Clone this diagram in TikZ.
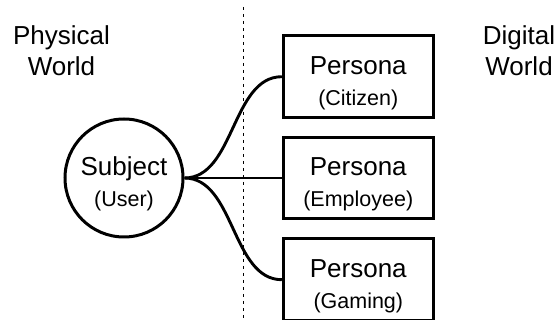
\documentclass[tikz,border=0pt]{standalone}
\usepackage{fontspec}
\setmainfont{Liberation Sans}
\newcommand{\subtxt}[1]{{\fontsize{21.5}{26}\selectfont #1}}

\begin{document}
\begin{tikzpicture}[x=1pt,y=-1pt,
  every node/.style={align=center,font=\fontsize{26}{31}\selectfont},
  persona/.style={draw,line width=3pt,minimum width=150pt,minimum height=81.5pt,inner sep=0pt,text height=62pt,text depth=4.8pt},
  subject/.style={draw,circle,line width=3pt,minimum size=118pt,inner sep=0pt,text height=62pt,text depth=4.8pt},
  link/.style={line width=2.9pt},
  divider/.style={line width=0.8pt,dash pattern=on 3.5pt off 3.5pt}]
  \useasboundingbox (0,0) rectangle (555,320);
  \def\xa{61.5}
  \def\xb{124}
  \def\xc{358.3}
  \def\xd{519}
  \def\xe{243.5}
  \def\ya{76.7}
  \def\yb{178}
  \def\yc{279.7}
  \node (Wa) at (\xa,50.5) {Physical\\World};
  \node (Wb) at (\xd,50.5) {Digital\\World};
  \node[subject] (Sa) at (\xb,\yb) {Subject\\\subtxt{(User)}};
  \node[persona] (Pa) at (\xc,\ya) {Persona\\\subtxt{(Citizen)}};
  \node[persona] (Pb) at (\xc,\yb) {Persona\\\subtxt{(Employee)}};
  \node[persona] (Pc) at (\xc,\yc) {Persona\\\subtxt{(Gaming)}};
  \coordinate (Da) at (\xe,7);
  \coordinate (Db) at (\xe,320);
  \draw[divider] (Da) -- (Db);
  \draw[link] (Sa.east) .. controls +(50,0) and +(-50,0) .. (Pa.west);
  \draw[link] (Sa.east) -- (Pb.west);
  \draw[link] (Sa.east) .. controls +(50,0) and +(-50,0) .. (Pc.west);
\end{tikzpicture}
\end{document}
